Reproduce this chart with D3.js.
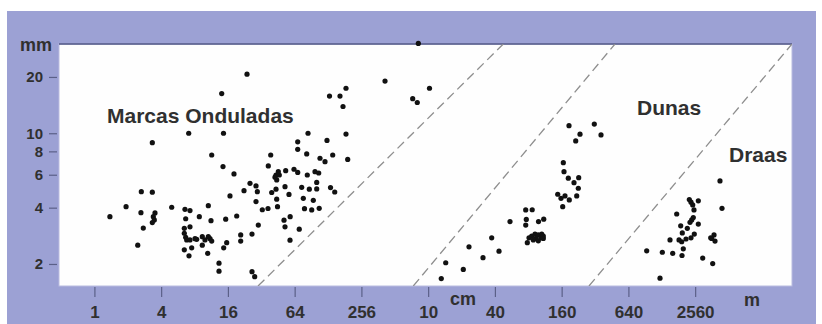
<!DOCTYPE html>
<html>
<head>
<meta charset="utf-8">
<script src="https://cdn.jsdelivr.net/npm/d3@7"></script>
<style>
  html, body { margin: 0; padding: 0; background: #ffffff; }
  svg { display: block; }
  text { font-family: Arial, "Liberation Sans", sans-serif; font-weight: bold; fill: #303030; }
</style>
</head>
<body>
<svg id="chart" width="822" height="324"></svg>
<script>
// ---------- data ----------
const xTickValues = [1, 4, 16, 64, 256, 1024, 4096, 16384, 65536, 262144];
const xTickLabels = ["1", "4", "16", "64", "256", "10", "40", "160", "640", "2560"];
const yTickValues = [2, 4, 6, 8, 10, 20];
const unitLabels = ["mm", "cm", "m"];
const regionLabels = ["Marcas Onduladas", "Dunas", "Draas"];

const ripplesX = [1.38,1.93,2.65,3.33,2.63,2.76,2.46,3.52,3.40,3.47,3.33,4.98,6.56,7.28,6.66,6.47,7.28,6.47,6.66,6.80,
  7.28,8.08,8.37,9.40,9.94,11.03,11.43,10.65,6.47,7.54,7.13,9.40,8.84,10.65,11.26,10.52,15.29,15.61,14.66,13.30,
  13.30,14.45,18.16,16.71,19.21,20.87,20.87,26.39,22.36,25.32,28.68,29.47,28.68,30.09,32.69,36.80,26.39,27.91,37.03,43.45,
  44.09,43.45,44.09,44.83,39.74,68.2,125.3,68.2,38.93,82.2,141.1,108.3,120.2,192.6,45.58,46.53,42.56,53.15,63.13,68.2,
  83.2,97.7,105.5,52.38,74.1,86.8,101.2,101.2,134.8,147.1,56.9,76.6,94.3,78.5,91.2,106.6,51.3,58.3,52.38,70.4,
  58.1,23.79,14.07,835,418,132.0,164.1,185.9,174.7,743,817,1053,14.60,84.5,185.9,7.09,3.33,11.43];
const ripplesY = [3.58,4.05,4.87,4.84,3.76,3.11,2.52,3.75,3.58,3.44,3.33,4.02,3.92,3.86,3.49,3.10,3.16,2.92,2.78,2.69,
  2.69,2.73,2.71,2.80,2.69,2.73,2.65,2.80,2.38,2.44,2.21,2.52,3.58,4.10,3.41,2.28,3.47,2.60,2.44,2.02,
  1.83,6.63,6.06,4.62,3.61,2.86,2.65,2.89,4.93,5.40,5.23,4.87,4.31,3.23,3.90,3.96,1.82,1.71,6.69,5.98,
  5.63,5.02,4.44,4.05,4.82,9.0,9.15,8.2,7.65,7.75,7.65,7.35,7.05,7.24,6.23,5.98,5.82,6.31,6.42,6.17,
  5.98,6.23,6.13,5.18,5.14,5.02,5.46,5.04,5.12,4.85,4.71,4.49,4.38,3.95,3.89,3.97,3.43,3.58,3.16,3.07,
  2.68,20.7,16.3,30.2,19.0,15.8,15.8,17.4,13.9,15.3,14.6,17.4,10.0,10.0,9.9,10.0,8.9,7.65];

const dunesX = [1345,1475,2125,2391,3199,3832,4460,5605,7765,8889,7864,7770,10130,11290,8317,8797,9419,10090,10830,9618,
  10670,11190,8029,9094,10090,11190,15100,16160,17560,19200,16750,22400,16960,17200,18810,21180,23350,23150,19080,32280,
  23990,21940,37100];
const dunesY = [1.67,2.03,1.87,2.47,2.16,2.76,2.34,3.37,3.89,3.90,3.46,3.23,3.37,3.47,2.76,2.82,2.89,2.86,2.89,2.74,
  2.76,2.82,2.60,2.69,2.66,2.74,4.72,4.49,4.62,4.40,4.05,4.62,6.96,6.23,5.75,5.44,5.79,5.08,10.98,11.2,
  9.88,9.10,9.79];

const draasX = [439100,457800,232200,240500,249100,279900,255900,178700,252200,244000,235500,279900,194200,222700,200700,257500,240500,216800,198300,187500,
  155500,204900,164500,132600,95830,199500,362100,387800,395900,369700,306600,377400,126300];
const draasY = [5.56,3.97,4.42,4.28,4.14,4.35,3.89,3.70,3.54,3.44,3.34,3.27,3.20,3.10,2.93,2.89,2.76,2.72,2.63,2.69,
  2.69,2.41,2.28,2.31,2.35,2.22,2.76,2.86,2.65,2.74,2.15,2.01,1.68];

// dashed boundaries: x at bottom of plot -> x at top of plot
const boundaryLowX = [29.9, 752, 28900];
const boundaryHighX = [4877, 49620, 1959000];

// ---------- layout ----------
const W = 822, H = 324;
const plot = { left: 59, right: 792, top: 44, bottom: 286 };
const xDomain = [0.4794, 1959000];
const yDomain = [1.525, 30];

const svg = d3.select("#chart");
const x = d3.scaleLog().domain(xDomain).range([plot.left, plot.right]);
const y = d3.scaleLog().domain(yDomain).range([plot.bottom, plot.top]);

// background panel
svg.append("rect").attr("x", 7).attr("y", 11).attr("width", 809).attr("height", H - 11)
  .attr("fill", "#9ca1d4");

// plot area
svg.append("rect").attr("x", plot.left).attr("y", plot.top)
  .attr("width", plot.right - plot.left).attr("height", plot.bottom - plot.top)
  .attr("fill", "#fefefe").attr("stroke", "#b9bce0").attr("stroke-width", 1);
svg.append("line").attr("x1", plot.left).attr("x2", plot.right)
  .attr("y1", plot.top).attr("y2", plot.top)
  .attr("stroke", "#4f5585").attr("stroke-width", 1.6);

// axes
const yAxis = d3.axisLeft(y).tickValues(yTickValues).tickFormat(d3.format("d"))
  .tickSize(8).tickPadding(6);
const gy = svg.append("g").attr("transform", `translate(${plot.left - 2},0)`).call(yAxis);
gy.select(".domain").remove();
gy.selectAll(".tick line").attr("stroke", "#5b6088").attr("stroke-width", 1.2);
gy.selectAll(".tick text").attr("font-size", 15).attr("fill", "#303030")
  .style("font-family", "Arial, 'Liberation Sans', sans-serif").style("font-weight", "bold");

const xAxis = d3.axisBottom(x).tickValues(xTickValues)
  .tickFormat((d, i) => xTickLabels[i]).tickSize(10);
const gx = svg.append("g").attr("transform", `translate(0,${plot.bottom + 1})`).call(xAxis);
gx.select(".domain").remove();
gx.selectAll(".tick line").attr("stroke", "#5b6088").attr("stroke-width", 1.2);
gx.selectAll(".tick text").attr("font-size", 17).attr("fill", "#303030")
  .attr("y", 31).attr("dy", 0)
  .style("font-family", "Arial, 'Liberation Sans', sans-serif").style("font-weight", "bold");

// unit labels
svg.append("text").attr("x", 20).attr("y", 51).attr("font-size", 18).text(unitLabels[0]);
svg.append("text").attr("x", 450).attr("y", 305).attr("font-size", 18).text(unitLabels[1]);
svg.append("text").attr("x", 744).attr("y", 306).attr("font-size", 18).text(unitLabels[2]);

// dashed boundary lines
svg.append("defs").append("clipPath").attr("id", "plotclip")
  .append("rect").attr("x", plot.left).attr("y", plot.top)
  .attr("width", plot.right - plot.left).attr("height", plot.bottom - plot.top);
svg.append("g").attr("clip-path", "url(#plotclip)")
  .selectAll("line.bound").data(boundaryLowX).enter().append("line")
  .attr("class", "bound")
  .attr("x1", d => x(d)).attr("y1", y(yDomain[0]))
  .attr("x2", (d, i) => x(boundaryHighX[i])).attr("y2", y(yDomain[1]))
  .attr("stroke", "#8e8e8e").attr("stroke-width", 1.3)
  .attr("stroke-dasharray", "9,5");

// region labels
svg.append("text").attr("x", 107).attr("y", 122.5).attr("font-size", 21).text(regionLabels[0]);
svg.append("text").attr("x", 637).attr("y", 115).attr("font-size", 21).text(regionLabels[1]);
svg.append("text").attr("x", 729).attr("y", 161.5).attr("font-size", 21).text(regionLabels[2]);

// points
const series = [
  { xs: ripplesX, ys: ripplesY },
  { xs: dunesX, ys: dunesY },
  { xs: draasX, ys: draasY }
];
const pts = svg.append("g");
series.forEach(s => {
  pts.selectAll(null).data(s.xs.map((v, i) => [v, s.ys[i]])).enter().append("circle")
    .attr("cx", d => x(d[0])).attr("cy", d => y(d[1])).attr("r", 2.6)
    .attr("fill", "#111111");
});
</script>
</body>
</html>
